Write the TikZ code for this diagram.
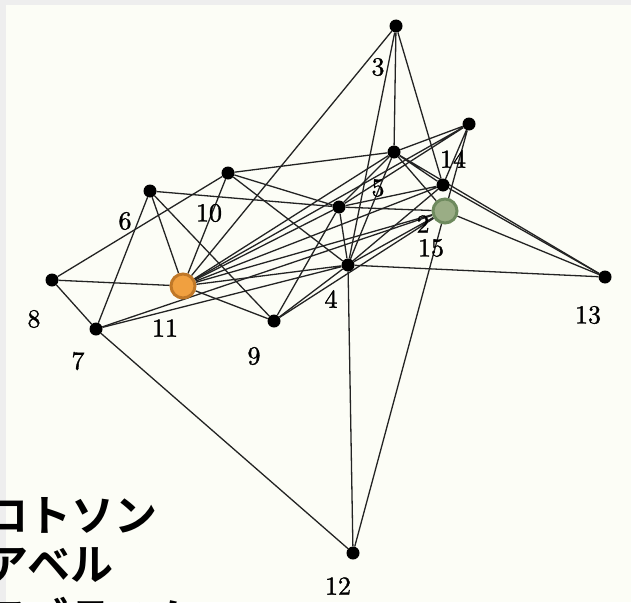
\documentclass[tikz,border=0pt]{standalone}
\usepackage{fontspec}
\newfontfamily\jpfont{Noto Sans CJK JP Bold}
\newfontfamily\labfont[FakeBold=1.2]{lmroman10-regular.otf}
\pgfdeclarelayer{paper}
\pgfdeclarelayer{edges}
\pgfsetlayers{paper,edges,main}
\definecolor{paperc}{RGB}{252,253,246}
\definecolor{framec}{RGB}{238,238,238}
\definecolor{orfill}{RGB}{240,160,64}
\definecolor{ordraw}{RGB}{192,120,40}
\definecolor{grfill}{RGB}{154,173,133}
\definecolor{grdraw}{RGB}{110,138,94}
\definecolor{edgec}{RGB}{35,35,35}
\tikzset{
  dot/.style={circle,fill=black,inner sep=0pt,minimum size=13pt},
  orangedot/.style={circle,fill=orfill,draw=ordraw,line width=3pt,inner sep=0pt,minimum size=24pt},
  greendot/.style={circle,fill=grfill,draw=grdraw,line width=3pt,inner sep=0pt,minimum size=24pt},
  edge/.style={draw=edgec,line width=1.3pt},
  lab/.style={font=\labfont\fontsize{26}{26}\selectfont,inner sep=0pt},
  jp/.style={font=\jpfont\fontsize{43}{43}\selectfont,inner sep=0pt}
}
\begin{document}
\begin{tikzpicture}[x=1pt,y=-1pt]
\useasboundingbox (0,0) rectangle (631,602);
\clip (0,0) rectangle (631,602);
\begin{pgfonlayer}{paper}
\fill[framec] (0,0) rectangle (631,602);
\fill[paperc] (6,5) rectangle (631,602);
\end{pgfonlayer}
% nodes
\node[dot] (A) at (396,26) {};
\node[dot] (B) at (469,124) {};
\node[dot] (C) at (394,152) {};
\node[dot] (D) at (443,185) {};
\node[greendot] (G) at (445,211) {};
\node[dot] (E) at (339,207) {};
\node[dot] (T) at (228,173) {};
\node[dot] (S) at (150,191) {};
\node[dot] (F) at (348,265) {};
\node[dot] (H) at (52,280) {};
\node[orangedot] (O) at (183,286) {};
\node[dot] (N7) at (96,329) {};
\node[dot] (N9) at (274,321) {};
\node[dot] (N13) at (605,277) {};
\node[dot] (N12) at (353,553) {};
% labels
\node[lab] (l3) at (378,67) {3};
\node[lab] (l14) at (453,159) {14};
\node[lab] (l5) at (378,188) {5};
\node[lab] (l10) at (209,213) {10};
\node[lab] (l6) at (125,221) {6};
\node[lab] (l2) at (423,224) {2};
\node[lab] (l15) at (431,248) {15};
\node[lab] (l4) at (331,299) {4};
\node[lab] (l8) at (34,319) {8};
\node[lab] (l11) at (165,328) {11};
\node[lab] (l13) at (588,315) {13};
\node[lab] (l7) at (78,361) {7};
\node[lab] (l9) at (254,356) {9};
\node[lab] (l12) at (338,586) {12};
% edges
\begin{pgfonlayer}{edges}
\path[edge] (A)--(O) (A)--(C) (A)--(F) (A)--(D);
\path[edge] (B)--(C) (B)--(E) (B)--(O) (B)--(D) (B)--(G);
\path[edge] (C)--(T) (C)--(E) (C)--(F) (C)--(G) (C)--(D) (C)--(N13) (C)--(O);
\path[edge] (D)--(N13) (D)--(F) (D)--(E) (D)--(O);
\path[edge] (G)--(E) (G)--(F) (G)--(N13) (G)--(N12) (G)--(O) (G)--(N9);
\path[edge] (E)--(S) (E)--(T) (E)--(F) (E)--(N9) (E)--(O);
\path[edge] (F)--(T) (F)--(N9) (F)--(N13) (F)--(N12) (F)--(N7) (F)--(O);
\path[edge] (S)--(O) (S)--(N7) (S)--(N9);
\path[edge] (T)--(H) (T)--(O);
\path[edge] (O)--(H) (O)--(N9);
\path[edge] (H)--(N7);
\path[edge] (N7)--(N12) (N7)--(G);
\end{pgfonlayer}
% legend text (cut by the picture edge, as in the reference)
\node[jp,anchor=east] (t1) at (158,515) {ロトソン};
\node[jp,anchor=east] (t2) at (114,565) {アベル};
\node[jp,anchor=west] (t3) at (-18,617) {アブラハム};
\end{tikzpicture}
\end{document}
